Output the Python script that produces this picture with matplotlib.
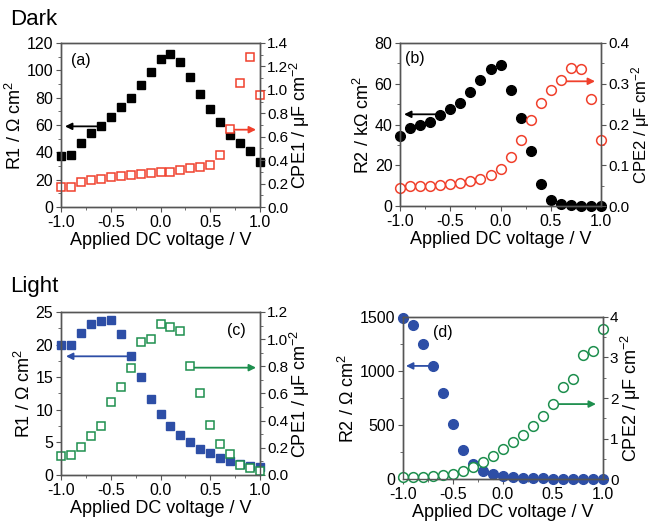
import matplotlib
matplotlib.use("Agg")
import matplotlib.pyplot as plt
import numpy as np
from matplotlib.ticker import MultipleLocator, FormatStrFormatter

voltage = np.round(np.arange(-1.0, 1.01, 0.1), 1)

# Dark
dark_r1 = [37, 38, 47, 54, 59, 66, 73, 80, 89, 99, 108.5, 112, 106, 95, 83, 72, 62, 53, 47, 41, 33]
dark_cpe1 = [0.174, 0.174, 0.21, 0.233, 0.242, 0.253, 0.262, 0.27, 0.279, 0.287, 0.296,
             0.30, 0.319, 0.33, 0.341, 0.361, 0.441, 0.669, 1.06, 1.28, 0.953]
dark_r2 = [34.4, 38.2, 39.7, 41.3, 44.6, 47.7, 50.7, 56, 62, 67.4, 69.3,
           57, 43.1, 27, 10.7, 3, 0.8, 0.3, 0.2, 0.1, 0.1]
dark_cpe2 = [0.045, 0.048, 0.048, 0.049, 0.052, 0.054, 0.057, 0.061, 0.066, 0.076, 0.092,
             0.121, 0.161, 0.21, 0.252, 0.285, 0.309, 0.339, 0.337, 0.262, 0.162]

# Light
light_r1 = [19.9, 19.9, 21.8, 23.2, 23.6, 23.7, 21.6, 18.2, 15.0, 11.7, 9.3,
            7.5, 6.1, 5.0, 4.0, 3.3, 2.6, 2.15, 1.7, 1.45, 1.2]
light_cpe1 = [0.143, 0.15, 0.207, 0.288, 0.364, 0.536, 0.647, 0.784, 0.976, 1.003, 1.109,
              1.087, 1.057, 0.80, 0.607, 0.369, 0.226, 0.155, 0.076, 0.049, 0.032]
light_r2 = [1490, 1426, 1253, 1047, 798, 508, 265, 135, 74, 43, 25,
            18, 12, 8, 5, 4, 3, 3, 2, 2, 2]
light_cpe2 = [0.057, 0.057, 0.057, 0.066, 0.09, 0.13, 0.197, 0.296, 0.41, 0.567, 0.73,
              0.91, 1.08, 1.31, 1.56, 1.86, 2.27, 2.47, 3.06, 3.15, 3.70]

BLACK = "#000000"
RED = "#f0402c"
BLUE = "#2d4ea6"
GREEN = "#1e8f4e"
SPINE = "#555555"

plt.rcParams["font.family"] = "Liberation Sans"
plt.rcParams["mathtext.fontset"] = "custom"
plt.rcParams["mathtext.rm"] = "Liberation Sans"
plt.rcParams["mathtext.it"] = "Liberation Sans:italic"
plt.rcParams["font.size"] = 11

fig = plt.figure(figsize=(6.51, 5.23), dpi=100)


def style(ax):
    for s in ax.spines.values():
        s.set_color(SPINE)
        s.set_linewidth(1.0)
        s.set_zorder(5)
    ax.tick_params(which="both", direction="out", color=SPINE, labelsize=11.5, pad=2)
    ax.tick_params(which="major", length=3.5)
    ax.tick_params(which="minor", length=2)


def panel(rect, x, yl, yr, cl, cr, marker, ylim_l, ylim_r, lmaj, lmin,
          rmaj, rmin, ylab_l, ylab_r, tag, tagpos, arr_l, arr_r, rfmt, rlab_size=13):
    ax = fig.add_axes(rect)
    ax2 = ax.twinx()
    ms = 6 if marker == "s" else 7
    ax.plot(x, yl, ls="none", marker=marker, ms=ms, mfc=cl, mec=cl, zorder=3, clip_on=False)
    ax2.plot(x, yr, ls="none", marker=marker, ms=ms, mfc="white", mec=cr, mew=1.1,
             zorder=3, clip_on=False)
    ax.set_xlim(-1.0, 1.0)
    ax.set_ylim(*ylim_l)
    ax2.set_ylim(*ylim_r)
    ax.set_xticks([-1.0, -0.5, 0.0, 0.5, 1.0])
    ax.set_xticklabels(["-1.0", "-0.5", "0.0", "0.5", "1.0"])
    ax.xaxis.set_minor_locator(MultipleLocator(0.25))
    ax.yaxis.set_major_locator(MultipleLocator(lmaj))
    ax.yaxis.set_minor_locator(MultipleLocator(lmin))
    ax2.yaxis.set_major_locator(MultipleLocator(rmaj))
    ax2.yaxis.set_minor_locator(MultipleLocator(rmin))
    ax2.yaxis.set_major_formatter(rfmt)
    style(ax)
    style(ax2)
    ax2.tick_params(axis="y", labelsize=11, pad=1.5)
    ax.set_xlabel("Applied DC voltage / V", fontsize=13, labelpad=2)
    ax.set_ylabel(ylab_l, fontsize=13, labelpad=1)
    ax2.set_ylabel(ylab_r, fontsize=rlab_size, labelpad=0)
    ax.text(tagpos[0], tagpos[1], tag, fontsize=11.5, ha="center", va="center")
    ax.annotate("", xy=(arr_l[1], arr_l[2]), xytext=(arr_l[0], arr_l[2]),
                arrowprops=dict(arrowstyle="-|>", color=cl, lw=1.3, mutation_scale=10,
                                shrinkA=0, shrinkB=0), zorder=2)
    ax2.annotate("", xy=(arr_r[1], arr_r[2]), xytext=(arr_r[0], arr_r[2]),
                 arrowprops=dict(arrowstyle="-|>", color=cr, lw=1.3, mutation_scale=10,
                                 shrinkA=0, shrinkB=0), zorder=2)
    return ax


fmt1 = FormatStrFormatter("%.1f")
fmt0 = FormatStrFormatter("%d")

panel([0.0937, 0.6042, 0.3057, 0.3136], voltage, dark_r1, dark_cpe1, BLACK, RED, "s",
      (0, 120), (0, 1.4), 20, 10, 0.2, 0.1,
      "R1 / \u03a9 cm$^2$", "CPE1 / \u03bcF cm$^{-2}$", "(a)", (-0.8, 107),
      (-0.62, -0.96, 59), (0.72, 0.96, 0.66), fmt1)

panel([0.6145, 0.6061, 0.3088, 0.3117], voltage, dark_r2, dark_cpe2, BLACK, RED, "o",
      (0, 80), (0, 0.4), 20, 10, 0.1, 0.05,
      "R2 / k\u03a9 cm$^2$", "CPE2 / \u03bcF cm$^{-2}$", "(b)", (-0.85, 72.5),
      (-0.63, -0.96, 45), (0.63, 0.94, 0.306), fmt1, rlab_size=12)

panel([0.0937, 0.0918, 0.3057, 0.3117], voltage, light_r1, light_cpe1, BLUE, GREEN, "s",
      (0, 25), (0, 1.2), 5, 2.5, 0.2, 0.1,
      "R1 / \u03a9 cm$^2$", "CPE1 / \u03bcF cm$^{-2}$", "(c)", (0.76, 22.2),
      (-0.32, -0.95, 18.2), (0.32, 0.96, 0.79), fmt1)

panel([0.619, 0.0841, 0.3072, 0.3098], voltage, light_r2, light_cpe2, BLUE, GREEN, "o",
      (0, 1500), (0, 4), 500, 250, 1, 0.5,
      "R2 / \u03a9 cm$^2$", "CPE2 / \u03bcF cm$^{-2}$", "(d)", (-0.6, 1360),
      (-0.72, -0.97, 1047), (0.53, 0.93, 1.85), fmt0)

fig.text(0.015, 0.962, "Dark", fontsize=16, va="center", ha="left")
fig.text(0.015, 0.453, "Light", fontsize=16, va="center", ha="left")

fig.savefig("out.png", dpi=100)
